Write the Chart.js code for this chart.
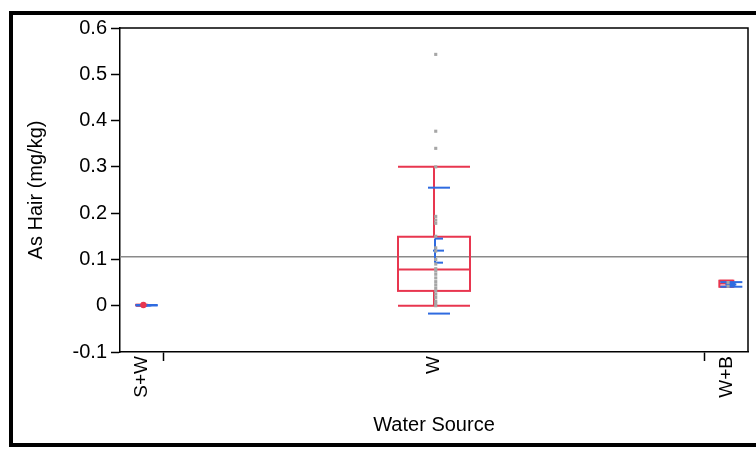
<!DOCTYPE html>
<html>
<head>
<meta charset="utf-8">
<script src="https://cdn.jsdelivr.net/npm/chart.js@4.4.0/dist/chart.umd.min.js"></script>
<style>
    body { margin: 0; background: #fff; }
    #wrap { position: relative; width: 756px; height: 449px; overflow: hidden; }
    #frame {
        position: absolute; left: 9px; top: 11px; width: 800px; height: 428px;
        border: 4px solid #000; border-right: none; pointer-events: none;
    }
</style>
</head>
<body>
<div id="wrap">
    <canvas id="hairChart" width="756" height="449"></canvas>
    <div id="frame"></div>
</div>
<script>
// Données
const categories = ['S+W', 'W', 'W+B'];
const groupCounts = [2, 25, 2];
const yTicks = [-0.1, 0, 0.1, 0.2, 0.3, 0.4, 0.5, 0.6];

const pointsSW = [0.001, 0.002];
const pointsW = [0.543, 0.377, 0.340, 0.300, 0.193, 0.185, 0.178, 0.150, 0.125, 0.118,
                 0.100, 0.090, 0.080, 0.075, 0.068, 0.060, 0.052, 0.045, 0.038, 0.032,
                 0.025, 0.018, 0.010, 0.005, 0.000];
const pointsWB = [0.042, 0.050];

const whiskerLow = [0.000, 0.000, 0.041];
const quart1 = [0.001, 0.032, 0.041];
const medians = [0.001, 0.078, 0.048];
const quart3 = [0.002, 0.149, 0.054];
const whiskerHigh = [0.002, 0.300, 0.054];

const means = [0.001, 0.119, 0.046];
const stdDevs = [0.0005, 0.136, 0.005];
const stdErrs = [0.0003, 0.026, 0.003];
const grandMean = 0.106;

// positions des groupes (axe proportionnel aux effectifs)
const boundaries = [];
const centers = [];
let cumul = 0;
groupCounts.forEach((n, i) => {
    centers.push(cumul + n / 2);
    cumul += n;
    if (i < groupCounts.length - 1) boundaries.push(cumul);
});
const total = cumul;

const RED = '#e8364f';
const BLUE = '#2f6be0';
const boxHalf = [5.5, 36, 7];

const boxPlotPlugin = {
    id: 'boxPlot',
    beforeDatasetsDraw(chart) {
        const { ctx, chartArea, scales: { x, y } } = chart;
        ctx.save();
        ctx.beginPath();
        ctx.rect(chartArea.left, chartArea.top, chartArea.right - chartArea.left, chartArea.bottom - chartArea.top);
        ctx.clip();

        // moyenne générale
        ctx.strokeStyle = '#8a8a8a';
        ctx.lineWidth = 1.5;
        ctx.beginPath();
        ctx.moveTo(chartArea.left, y.getPixelForValue(grandMean));
        ctx.lineTo(chartArea.right, y.getPixelForValue(grandMean));
        ctx.stroke();

        const hline = (x1, x2, v) => {
            const py = y.getPixelForValue(v);
            ctx.beginPath();
            ctx.moveTo(x1, py);
            ctx.lineTo(x2, py);
            ctx.stroke();
        };
        const vline = (px, v1, v2) => {
            ctx.beginPath();
            ctx.moveTo(px, y.getPixelForValue(v1));
            ctx.lineTo(px, y.getPixelForValue(v2));
            ctx.stroke();
        };

        categories.forEach((c, i) => {
            const cx = x.getPixelForValue(centers[i]);
            const hw = boxHalf[i];

            // boîte à moustaches
            ctx.strokeStyle = RED;
            ctx.lineWidth = 2;
            vline(cx, whiskerLow[i], quart1[i]);
            vline(cx, quart3[i], whiskerHigh[i]);
            hline(cx - hw, cx + hw, whiskerLow[i]);
            hline(cx - hw, cx + hw, whiskerHigh[i]);
            const top = y.getPixelForValue(quart3[i]);
            const bot = y.getPixelForValue(quart1[i]);
            ctx.strokeRect(cx - hw, top, hw * 2, bot - top);
            hline(cx - hw, cx + hw, medians[i]);

            // écart-type et erreur standard
            ctx.strokeStyle = BLUE;
            ctx.lineWidth = 2;
            hline(cx - 6, cx + 16, means[i] + stdDevs[i]);
            hline(cx - 6, cx + 16, means[i] - stdDevs[i]);
            vline(cx + 1, means[i] - stdErrs[i], means[i] + stdErrs[i]);
            hline(cx + 1, cx + 9, means[i] + stdErrs[i]);
            hline(cx + 1, cx + 9, means[i] - stdErrs[i]);
            hline(cx - 1, cx + 10, means[i]);
        });
        ctx.restore();
    },
    afterDraw(chart) {
        const { ctx, chartArea } = chart;
        ctx.save();
        ctx.strokeStyle = '#000';
        ctx.lineWidth = 1.5;
        ctx.beginPath();
        ctx.moveTo(chartArea.left, chartArea.top);
        ctx.lineTo(chartArea.right, chartArea.top);
        ctx.lineTo(chartArea.right, chartArea.bottom);
        ctx.stroke();
        ctx.restore();
    }
};

Chart.defaults.color = '#000';
Chart.defaults.font.family = '"Liberation Sans", Arial, sans-serif';

const toXY = (arr, i) => arr.map(v => ({ x: centers[i] + 0.08, y: v }));

new Chart(document.getElementById('hairChart').getContext('2d'), {
    type: 'scatter',
    data: {
        datasets: [
            {
                data: toXY(pointsW, 1),
                pointStyle: 'rect',
                radius: 2.2,
                backgroundColor: '#a6a6a6',
                borderWidth: 0
            },
            {
                data: toXY(pointsWB, 2),
                pointStyle: 'rect',
                radius: 2.2,
                backgroundColor: '#a6a6a6',
                borderWidth: 0
            },
            {
                data: toXY(pointsSW, 0),
                pointStyle: 'circle',
                radius: 3,
                backgroundColor: RED,
                borderWidth: 0
            }
        ]
    },
    options: {
        responsive: false,
        animation: false,
        devicePixelRatio: 1,
        layout: { padding: { top: 28, right: 8, left: 0, bottom: 0 } },
        plugins: {
            legend: { display: false },
            tooltip: { enabled: false }
        },
        scales: {
            x: {
                type: 'linear',
                min: 0,
                max: total,
                afterBuildTicks: axis => {
                    axis.ticks = [...centers, ...boundaries].sort((a, b) => a - b).map(v => ({ value: v }));
                },
                afterFit: axis => { axis.height = 97; },
                ticks: {
                    autoSkip: false,
                    minRotation: 90,
                    maxRotation: 90,
                    padding: -5,
                    font: { size: 19 },
                    callback: value => {
                        const i = centers.indexOf(value);
                        return i >= 0 ? categories[i] : '';
                    }
                },
                grid: {
                    drawOnChartArea: false,
                    tickLength: 9,
                    tickWidth: 1.5,
                    tickColor: ctx => boundaries.includes(ctx.tick && ctx.tick.value) ? '#000' : 'rgba(0,0,0,0)'
                },
                border: { display: true, color: '#000', width: 1.5 },
                title: {
                    display: true,
                    text: 'Water Source',
                    font: { size: 20 },
                    padding: { top: 0, bottom: 12 }
                }
            },
            y: {
                min: -0.1,
                max: 0.6,
                afterBuildTicks: axis => {
                    axis.ticks = yTicks.map(v => ({ value: v }));
                },
                afterFit: axis => { axis.width = 120; },
                ticks: {
                    padding: 4,
                    font: { size: 20 },
                    callback: value => value === 0 ? '0' : value.toFixed(1)
                },
                grid: {
                    drawOnChartArea: false,
                    tickLength: 9,
                    tickWidth: 1.5,
                    tickColor: '#000'
                },
                border: { display: true, color: '#000', width: 1.5 },
                title: {
                    display: true,
                    text: 'As Hair (mg/kg)',
                    font: { size: 20 },
                    padding: { top: 24, bottom: 0 }
                }
            }
        }
    },
    plugins: [boxPlotPlugin]
});
</script>
</body>
</html>
